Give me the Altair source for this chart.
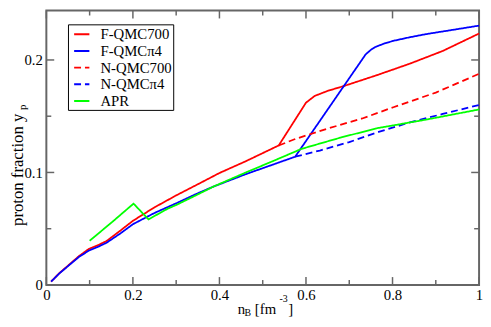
import altair as alt
import pandas as pd

# ---------------- data ----------------
series = ["F-QMC700", "F-QMCπ4", "N-QMC700", "N-QMCπ4", "APR"]

f700_x = [0.011, 0.03, 0.06, 0.075, 0.098, 0.12, 0.139, 0.17, 0.2, 0.25, 0.302, 0.35, 0.4,
          0.461, 0.537, 0.6, 0.62, 0.65, 0.689, 0.764, 0.84, 0.916, 1.0]
f700_y = [0.003, 0.0105, 0.0205, 0.0255, 0.032, 0.0355, 0.039, 0.048, 0.057, 0.069, 0.080, 0.0895, 0.0995,
          0.110, 0.124, 0.162, 0.168, 0.1725, 0.177, 0.1865, 0.1967, 0.208, 0.2235]

fpi4_x = [0.011, 0.03, 0.06, 0.075, 0.098, 0.12, 0.139, 0.17, 0.2, 0.25, 0.302, 0.35, 0.386,
          0.461, 0.52, 0.575, 0.738, 0.75, 0.76, 0.78, 0.802, 0.84, 0.878, 0.94, 1.0]
fpi4_y = [0.003, 0.0102, 0.020, 0.0248, 0.0305, 0.034, 0.0375, 0.0455, 0.054, 0.064, 0.0729, 0.0815, 0.0874,
          0.0985, 0.1065, 0.114, 0.205, 0.209, 0.2115, 0.2145, 0.217, 0.2202, 0.223, 0.2268, 0.2305]

n700_x = [0.537, 0.575, 0.65, 0.73, 0.802, 0.9, 1.0]
n700_y = [0.124, 0.1297, 0.139, 0.148, 0.158, 0.171, 0.1877]

npi4_x = [0.575, 0.632, 0.7, 0.768, 0.84, 0.916, 1.0]
npi4_y = [0.114, 0.1195, 0.127, 0.136, 0.1445, 0.152, 0.160]

apr_x = [0.1, 0.151, 0.2015, 0.236, 0.28, 0.302, 0.35, 0.386, 0.461, 0.52, 0.59, 0.68, 0.764, 0.878, 1.0]
apr_y = [0.0393, 0.0556, 0.0723, 0.0583, 0.0677, 0.0714, 0.0805, 0.0874, 0.1, 0.1095, 0.121, 0.131,
         0.1393, 0.147, 0.156]

x_major = [0, 0.2, 0.4, 0.6, 0.8, 1.0]
x_minor = [0.1, 0.3, 0.5, 0.7, 0.9]
y_major = [0, 0.1, 0.2]
y_minor = [0.05, 0.15]

colors = ["#ff0000", "#0000ff", "#ff0000", "#0000ff", "#00ff00"]
dashes = [[1, 0], [1, 0], [7, 4], [7, 4], [1, 0]]

rows = []
for name, xs_, ys_ in zip(series, [f700_x, fpi4_x, n700_x, npi4_x, apr_x],
                          [f700_y, fpi4_y, n700_y, npi4_y, apr_y]):
    for i, (a, b) in enumerate(zip(xs_, ys_)):
        rows.append({"series": name, "nB": a, "yp": b, "i": i})
df = pd.DataFrame(rows)

# ---------------- chart ----------------
W, H = 440, 279
FONT = "Liberation Serif, Times New Roman, Times, DejaVu Serif, serif"
FRAME = "#666666"

xsc = alt.Scale(domain=[0, 1], nice=False, zero=False)
ysc = alt.Scale(domain=[0, 0.2439], nice=False, zero=False)
xaxis = alt.Axis(values=x_major, format="~g", title="", ticks=False, tickSize=0, domain=False,
                 grid=False, labelFont=FONT, labelFontSize=15, labelColor="black",
                 labelPadding=3, labelFlush=False)
yaxis = alt.Axis(values=y_major, format="~g", title="", ticks=False, tickSize=0, domain=False,
                 grid=False, labelFont=FONT, labelFontSize=15, labelColor="black",
                 labelPadding=4)

leg = alt.Legend(orient="none", legendX=22, legendY=14, symbolType="stroke", symbolSize=240,
                 symbolStrokeWidth=2, strokeColor="black", fillColor="white", padding=1,
                 symbolOffset=4, labelOffset=10, labelFont=FONT, labelFontSize=15,
                 labelColor="black", rowPadding=0, title=None,
                 labelExpr="datum.label + ' '")

lines = alt.Chart(df).mark_line(strokeWidth=1.8).encode(
    x=alt.X("nB:Q", scale=xsc, axis=xaxis),
    y=alt.Y("yp:Q", scale=ysc, axis=yaxis),
    color=alt.Color("series:N", scale=alt.Scale(domain=series, range=colors), legend=leg),
    strokeDash=alt.StrokeDash("series:N", scale=alt.Scale(domain=series, range=dashes), legend=leg),
    order="i:Q",
)

def xticks(vals, length):
    d = pd.DataFrame({"nB": vals})
    bot = alt.Chart(d).mark_rule(color=FRAME, strokeWidth=1.5).encode(
        x=alt.X("nB:Q", scale=xsc, axis=xaxis), y=alt.value(H), y2=alt.value(H - length))
    top = alt.Chart(d).mark_rule(color=FRAME, strokeWidth=1.5).encode(
        x=alt.X("nB:Q", scale=xsc, axis=xaxis), y=alt.value(0), y2=alt.value(length))
    return [bot, top]

def yticks(vals, length):
    d = pd.DataFrame({"yp": vals})
    left = alt.Chart(d).mark_rule(color=FRAME, strokeWidth=1.5).encode(
        y=alt.Y("yp:Q", scale=ysc, axis=yaxis), x=alt.value(0), x2=alt.value(length))
    right = alt.Chart(d).mark_rule(color=FRAME, strokeWidth=1.5).encode(
        y=alt.Y("yp:Q", scale=ysc, axis=yaxis), x=alt.value(W), x2=alt.value(W - length))
    return [left, right]

one = pd.DataFrame({"k": [0]})

def label(text, x, y, size, angle=0):
    kw = dict(align="left", baseline="alphabetic", font=FONT, fontSize=size, color="black")
    if angle:
        kw["angle"] = angle
    return alt.Chart(one).mark_text(**kw).encode(
        x=alt.value(x), y=alt.value(y), text=alt.value(text))

titles = [
    label("n", 194.5, 309, 15),
    label("B", 201.5, 311, 10),
    label("[fm", 212, 309, 15),
    label("-3", 237, 296.5, 10),
    label("]", 246, 309, 15),
    label("proton fraction y", -24, 219, 17, 270),
    label("p", -21, 101, 11, 270),
]

chart = alt.layer(
    *xticks(x_major, 8), *xticks(x_minor, 5),
    *yticks(y_major, 8), *yticks(y_minor, 5),
    lines, *titles,
).properties(
    width=W, height=H,
    padding={"left": 39, "top": 0, "right": 4, "bottom": 32},
    autosize=alt.AutoSizeParams(type="none"),
).configure_view(stroke=FRAME, strokeWidth=2)

chart.save("out.html", embed_options={"renderer": "svg", "actions": False})
